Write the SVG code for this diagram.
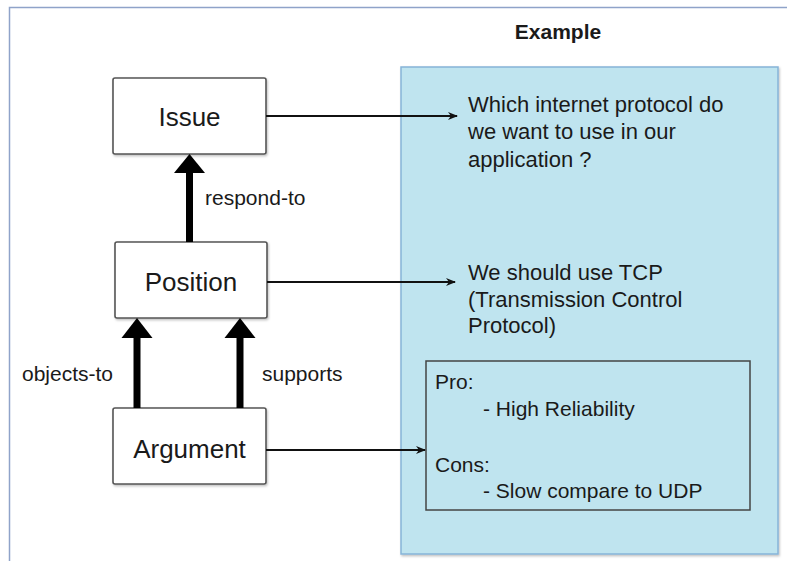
<svg xmlns="http://www.w3.org/2000/svg" width="787" height="561" viewBox="0 0 787 561">
<defs>
<style>
text{font-family:"Liberation Sans",Arial,sans-serif;fill:#1a1a1a}
.node{fill:#fff;stroke:#555;stroke-width:1.6}
.big{font-size:26px;text-anchor:middle}
.lbl{font-size:21px}
.ex{font-size:22px}
.sm{font-size:21px}
.thin{stroke:#111;stroke-width:2;fill:none}
.thick{stroke:#000;stroke-width:7;fill:none}
</style>
<marker id="ah" viewBox="0 0 10 10" refX="9" refY="5" markerWidth="10" markerHeight="10" markerUnits="userSpaceOnUse" orient="auto">
<path d="M0,1 L10,5 L0,9 L3,5 Z" fill="#111"/>
</marker>
<filter id="sh" x="-10%" y="-10%" width="130%" height="130%">
<feDropShadow dx="1" dy="1.5" stdDeviation="1.2" flood-color="#000" flood-opacity="0.25"/>
</filter>
</defs>
<rect width="787" height="561" fill="#fff"/>
<rect x="9.5" y="7.5" width="800" height="600" fill="none" stroke="#8fa3c9" stroke-width="1.5"/>
<text x="558" y="39" font-size="21" font-weight="bold" text-anchor="middle">Example</text>
<g id="example-panel">
<rect x="401" y="67" width="377" height="487" fill="#bfe4ef" stroke="#86b4d8" stroke-width="1.5" filter="url(#sh)"/>
<text class="ex"><tspan x="468" y="111.5">Which internet protocol do</tspan><tspan x="468" y="139">we want to use in our</tspan><tspan x="468" y="166.5">application ?</tspan></text>
<text class="ex"><tspan x="468" y="280">We should use TCP</tspan><tspan x="468" y="306.5">(Transmission Control</tspan><tspan x="468" y="333">Protocol)</tspan></text>
</g>
<g id="pro-cons">
<rect x="426" y="361" width="324" height="149" fill="none" stroke="#444" stroke-width="1.5"/>
<text class="sm"><tspan x="435" y="389">Pro:</tspan><tspan x="483" y="416">- High Reliability</tspan><tspan x="435" y="471.5">Cons:</tspan><tspan x="483" y="498">- Slow compare to UDP</tspan></text>
</g>
<g id="issue">
<rect class="node" x="113" y="78" width="153" height="76" rx="2" filter="url(#sh)"/>
<text class="big" x="189.5" y="126">Issue</text>
</g>
<g id="position">
<rect class="node" x="115" y="242" width="152" height="76" rx="2" filter="url(#sh)"/>
<text class="big" x="191" y="291">Position</text>
</g>
<g id="argument">
<rect class="node" x="113" y="408" width="153" height="76" rx="2" filter="url(#sh)"/>
<text class="big" x="189.5" y="458">Argument</text>
</g>
<g id="connectors">
<line class="thick" x1="189.5" y1="242" x2="189.5" y2="170"/>
<polygon points="189.5,154 205,173 174,173" fill="#000"/>
<line class="thick" x1="137" y1="408" x2="137" y2="335"/>
<polygon points="137,318 152.5,338 121.5,338" fill="#000"/>
<line class="thick" x1="240" y1="408" x2="240" y2="335"/>
<polygon points="240,318 255.5,338 224.5,338" fill="#000"/>
<line class="thin" x1="266" y1="116" x2="457" y2="116" marker-end="url(#ah)"/>
<line class="thin" x1="267" y1="282" x2="455" y2="282" marker-end="url(#ah)"/>
<line class="thin" x1="266" y1="450" x2="425" y2="450" marker-end="url(#ah)"/>
<text class="lbl" x="205" y="205">respond-to</text>
<text class="lbl" x="22" y="381">objects-to</text>
<text class="lbl" x="262" y="381">supports</text>
</g>
</svg>
